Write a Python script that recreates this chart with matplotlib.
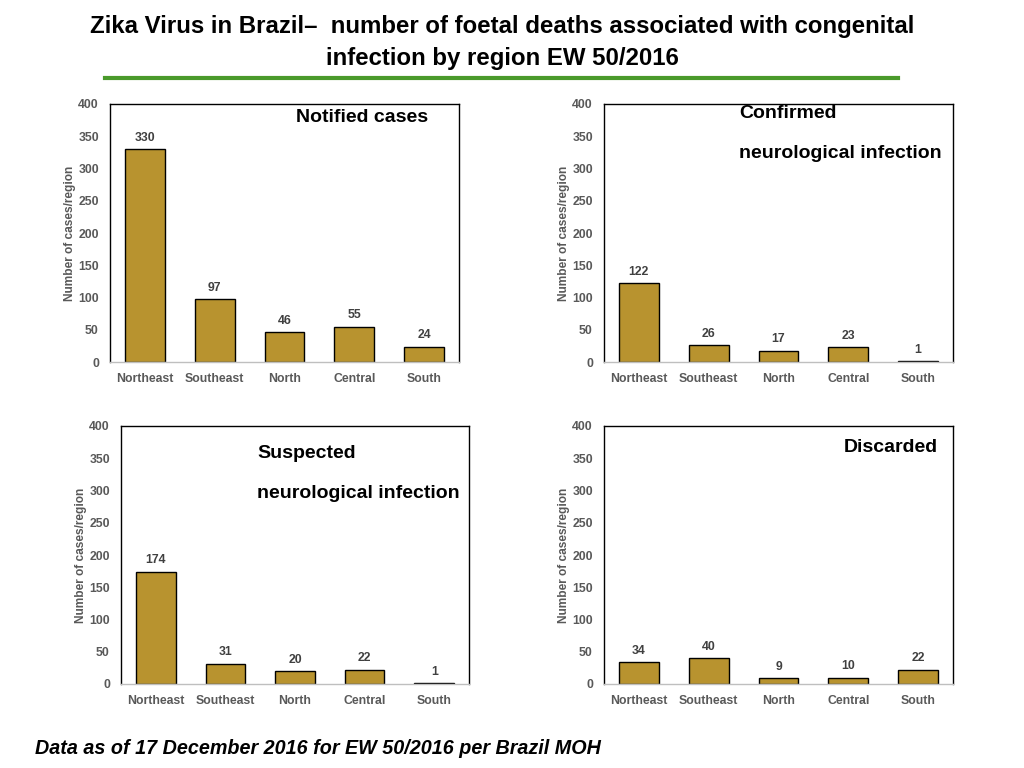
import matplotlib.pyplot as plt
from matplotlib.lines import Line2D

plt.rcParams['font.family'] = ['Liberation Sans', 'DejaVu Sans']

# =============================================================================
# Data
# =============================================================================
regions   = ["Northeast", "Southeast", "North", "Central", "South"]
notified  = [330, 97, 46, 55, 24]
confirmed = [122, 26, 17, 23, 1]
suspected = [174, 31, 20, 22, 1]
discarded = [34, 40, 9, 10, 22]

BAR   = '#B8932F'
GREY  = '#595959'
W, H  = 1024, 768

fig = plt.figure(figsize=(W / 100, H / 100), dpi=100)

def px(x, y):
    return x / W, 1 - y / H

# (left, top, right, zero-line) in pixels
panels = [
    (notified,  (110, 104, 459, 362)),
    (confirmed, (604, 104, 953, 362)),
    (suspected, (121, 426, 469, 684)),
    (discarded, (604, 426, 953, 684)),
]

for vals, (l, t, r, b) in panels:
    ax = fig.add_axes([l / W, 1 - b / H, (r - l) / W, (b - t) / H])
    bars = ax.bar(regions, vals, width=0.57, color=BAR, edgecolor='black', linewidth=1)
    ax.bar_label(bars, padding=4, fontsize=8.8, fontweight='bold', color='#404040')
    ax.set_ylim(0, 400)
    ax.set_xlim(-0.5, 4.5)
    ax.set_yticks(range(0, 401, 50))
    ax.tick_params(length=0, labelsize=8.8, labelcolor=GREY)
    ax.tick_params(axis='y', pad=8)
    ax.tick_params(axis='x', pad=8)
    for lab in ax.get_xticklabels() + ax.get_yticklabels():
        lab.set_fontweight('bold')
    ax.set_ylabel("Number of cases/region", fontsize=8.6, fontweight='bold',
                  color=GREY, labelpad=1.5)
    for s in ('left', 'top', 'right'):
        ax.spines[s].set_color('black')
        ax.spines[s].set_linewidth(1)
    ax.spines['bottom'].set_color('#BFBFBF')
    ax.spines['bottom'].set_linewidth(1)

# panel captions
cap = dict(fontsize=14, fontweight='bold', color='black', va='center')
fig.text(*px(362, 118), "Notified cases", ha='center', **cap)
fig.text(*px(739, 114), "Confirmed", ha='left', **cap)
fig.text(*px(739, 153), "neurological infection", ha='left', **cap)
fig.text(*px(257, 453), "Suspected", ha='left', **cap)
fig.text(*px(257, 493), "neurological infection", ha='left', **cap)
fig.text(*px(938, 447), "Discarded", ha='right', **cap)

# title + green rule
fig.text(*px(502, 26), "Zika Virus in Brazil\u2013  number of foetal deaths associated with congenital",
         ha='center', va='center', fontsize=17.3, fontweight='bold')
fig.text(*px(502, 58), "infection by region EW 50/2016",
         ha='center', va='center', fontsize=17.3, fontweight='bold')
x0, y0 = px(105, 78)
x1, _  = px(898, 78)
fig.add_artist(Line2D([x0, x1], [y0, y0], color='#4A9A2B', linewidth=3,
                      transform=fig.transFigure))

fig.text(*px(35, 748), "Data as of 17 December 2016 for EW 50/2016 per Brazil MOH",
         ha='left', va='center', fontsize=14.2, fontweight='bold', style='italic')

plt.savefig("out.png", dpi=100)
